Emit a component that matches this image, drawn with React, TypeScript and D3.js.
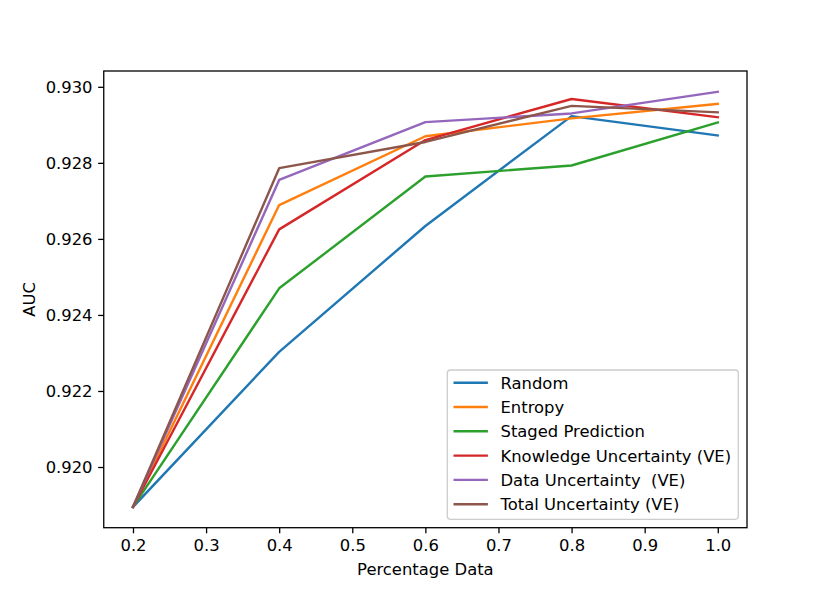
import React, { useEffect, useRef } from 'react';
import * as d3 from 'd3';

// Fraction of data used for training
const percentages = [0.2, 0.4, 0.6, 0.8, 1.0];

// AUC per acquisition strategy
const randomAuc = [0.91895, 0.92303, 0.92634, 0.92923, 0.92872];
const entropyAuc = [0.91895, 0.92689, 0.92870, 0.92917, 0.92955];
const stagedAuc = [0.91895, 0.92470, 0.92764, 0.92793, 0.92906];
const knowledgeAuc = [0.91895, 0.92625, 0.92860, 0.92968, 0.92920];
const dataUncAuc = [0.91895, 0.92755, 0.92907, 0.92930, 0.92987];
const totalAuc = [0.91895, 0.92786, 0.92855, 0.92950, 0.92933];

const seriesNames = [
  'Random',
  'Entropy',
  'Staged Prediction',
  'Knowledge Uncertainty (VE)',
  'Data Uncertainty  (VE)',
  'Total Uncertainty (VE)'
];
const seriesValues = [randomAuc, entropyAuc, stagedAuc, knowledgeAuc, dataUncAuc, totalAuc];
const colors = ['#1f77b4', '#ff7f0e', '#2ca02c', '#d62728', '#9467bd', '#8c564b'];

const xTicks = [0.2, 0.3, 0.4, 0.5, 0.6, 0.7, 0.8, 0.9, 1.0];
const yTicks = [0.920, 0.922, 0.924, 0.926, 0.928, 0.930];

const AucChart: React.FC<{ width?: number; height?: number }> = ({ width = 830, height = 593 }) => {
  const svgRef = useRef<SVGSVGElement>(null);

  useEffect(() => {
    if (!svgRef.current) return;
    d3.select(svgRef.current).selectAll('*').remove();

    const svg = d3.select(svgRef.current);
    const font = '"DejaVu Sans", sans-serif';
    const fontSize = 16.4;
    const margin = { top: 71, right: 83, bottom: 65.3, left: 103.75 };
    const innerWidth = width - margin.left - margin.right;
    const innerHeight = height - margin.top - margin.bottom;

    // matplotlib style 5% margins
    const xMin = d3.min(percentages)!;
    const xMax = d3.max(percentages)!;
    const xPad = (xMax - xMin) * 0.05;
    const allY = seriesValues.flat();
    const yMin = d3.min(allY)!;
    const yMax = d3.max(allY)!;
    const yPad = (yMax - yMin) * 0.05;

    const xScale = d3.scaleLinear().domain([xMin - xPad, xMax + xPad]).range([0, innerWidth]);
    const yScale = d3.scaleLinear().domain([yMin - yPad, yMax + yPad]).range([innerHeight, 0]);

    const g = svg.append('g').attr('transform', `translate(${margin.left},${margin.top})`);

    // Lines
    const line = d3.line<number>()
      .x((d, i) => xScale(percentages[i]))
      .y(d => yScale(d));

    seriesValues.forEach((vals, k) => {
      g.append('path')
        .datum(vals)
        .attr('d', line)
        .attr('fill', 'none')
        .attr('stroke', colors[k])
        .attr('stroke-width', 2.4)
        .attr('stroke-linecap', 'square')
        .attr('stroke-linejoin', 'round');
    });

    // Axes
    const xAxis = d3.axisBottom(xScale)
      .tickValues(xTicks)
      .tickFormat(d3.format('.1f'))
      .tickSizeInner(5.6)
      .tickSizeOuter(0)
      .tickPadding(5.6);
    const yAxis = d3.axisLeft(yScale)
      .tickValues(yTicks)
      .tickFormat(d3.format('.3f'))
      .tickSizeInner(5.6)
      .tickSizeOuter(0)
      .tickPadding(5.6);

    const xg = g.append('g').attr('transform', `translate(0,${innerHeight})`).call(xAxis);
    const yg = g.append('g').call(yAxis);
    [xg, yg].forEach(ax => {
      ax.select('.domain').remove();
      ax.selectAll('line').attr('stroke', '#000').attr('stroke-width', 1.3);
      ax.selectAll('text')
        .attr('fill', '#000')
        .style('font-family', font)
        .style('font-size', `${fontSize}px`);
    });

    // Frame
    g.append('rect')
      .attr('x', 0)
      .attr('y', 0)
      .attr('width', innerWidth)
      .attr('height', innerHeight)
      .attr('fill', 'none')
      .attr('stroke', '#000')
      .attr('stroke-width', 1.3);

    // Axis labels
    g.append('text')
      .attr('x', innerWidth / 2)
      .attr('y', innerHeight + 47)
      .attr('text-anchor', 'middle')
      .style('font-family', font)
      .style('font-size', `${fontSize}px`)
      .text('Percentage Data');

    g.append('text')
      .attr('transform', 'rotate(-90)')
      .attr('x', -innerHeight / 2)
      .attr('y', -margin.left + 35)
      .attr('text-anchor', 'middle')
      .style('font-family', font)
      .style('font-size', `${fontSize}px`)
      .text('AUC');

    // Legend
    const legend = svg.append('g').attr('transform', 'translate(447.3,370)');
    legend.append('rect')
      .attr('width', 291)
      .attr('height', 149.3)
      .attr('rx', 3.2)
      .attr('fill', '#fff')
      .attr('fill-opacity', 0.8)
      .attr('stroke', '#cccccc')
      .attr('stroke-width', 1.3);

    seriesNames.forEach((name, k) => {
      const cy = 12.7 + k * 24.3;
      legend.append('line')
        .attr('x1', 7.4)
        .attr('x2', 39.4)
        .attr('y1', cy)
        .attr('y2', cy)
        .attr('stroke', colors[k])
        .attr('stroke-width', 2.4)
        .attr('stroke-linecap', 'square');
      legend.append('text')
        .attr('x', 53.2)
        .attr('y', cy)
        .attr('dy', '0.36em')
        .style('font-family', font)
        .style('font-size', `${fontSize}px`)
        .style('white-space', 'pre')
        .text(name);
    });
  }, [width, height]);

  return (
    <svg
      ref={svgRef}
      width={width}
      height={height}
      style={{ position: 'absolute', left: 0, top: 0, background: '#fff' }}
    />
  );
};

export default function App() {
  return <AucChart />;
}
